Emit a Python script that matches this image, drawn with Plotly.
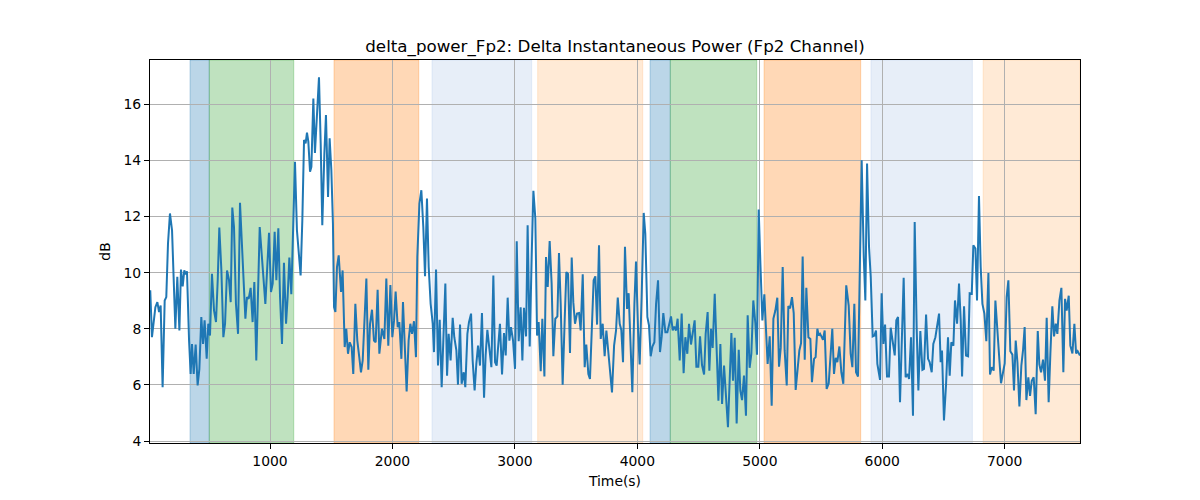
import plotly.graph_objects as go

# ---- data: time (s) and delta power (dB) ----
t_a = [22, 36, 64, 80, 94, 107, 123, 140, 153, 167, 183, 200, 227, 243, 260, 273, 287, 300, 311, 322,
       339, 352, 363, 377, 393, 409, 423, 439, 453, 466, 483, 496, 510, 526, 543, 559, 573, 586, 603, 619,
       633, 649, 665, 679, 692, 706, 722, 739, 755, 771, 785, 799, 812, 826, 842, 858, 872, 888, 916, 929,
       943, 962]
v_a = [9.37, 7.70, 8.77, 8.95, 8.60, 8.83, 5.92, 9.01, 9.13, 11.04, 12.11, 11.51, 8.00, 9.85, 7.94, 10.11, 9.51, 10.08, 9.94, 10.05,
       7.58, 6.39, 7.46, 6.39, 7.44, 5.98, 6.56, 8.42, 7.46, 8.30, 6.93, 8.18, 7.76, 9.96, 8.65, 8.24, 9.73, 11.61, 10.08, 7.70,
       8.18, 10.08, 9.75, 8.95, 12.32, 11.63, 8.89, 7.82, 12.49, 10.80, 9.49, 8.36, 9.13, 9.07, 9.46, 8.24, 9.67, 6.87, 11.63, 10.74,
       9.85, 8.89]

t_b = [992, 1008, 1022, 1038, 1052, 1068, 1082, 1098, 1114, 1131, 1144, 1158, 1174, 1191, 1204, 1220, 1237, 1250, 1264, 1278,
       1291, 1302, 1313, 1327, 1338, 1354, 1367, 1387, 1400, 1414, 1427, 1444, 1457, 1474, 1487, 1501, 1514, 1523, 1534, 1547,
       1561, 1580, 1593, 1610, 1623, 1637, 1651, 1667, 1680, 1697, 1713, 1729, 1743, 1757, 1770, 1787, 1803, 1817, 1833, 1849,
       1863, 1879, 1893]
v_b = [11.42, 9.31, 9.61, 11.46, 9.73, 11.58, 9.13, 7.46, 10.35, 8.18, 9.13, 10.54, 9.23, 12.58, 13.95, 11.51, 10.56, 9.90, 11.87, 14.73,
       14.61, 14.99, 14.67, 13.60, 13.77, 16.21, 14.27, 15.98, 16.96, 14.61, 11.69, 14.25, 15.62, 12.70, 14.79, 13.65, 11.75, 8.77, 8.60, 10.20,
       10.62, 9.31, 10.08, 7.35, 8.00, 7.11, 7.52, 7.35, 6.39, 8.89, 7.58, 6.99, 6.45, 6.87, 8.18, 9.79, 6.54, 8.18, 8.68, 7.58,
       7.52, 9.39, 7.11]

t_c = [1914, 1934, 1950, 1966, 1983, 1999, 2013, 2026, 2043, 2056, 2073, 2086, 2103, 2116, 2132, 2146, 2160, 2176, 2192, 2203,
       2220, 2236, 2252, 2266, 2282, 2296, 2312, 2329, 2339, 2356, 2372, 2386, 2402, 2416, 2432, 2446, 2459, 2475, 2492, 2505,
       2522, 2535, 2552, 2565, 2582, 2595, 2612, 2625, 2642, 2655, 2671, 2685, 2699, 2715, 2731, 2748, 2761, 2775, 2791, 2808,
       2824, 2838, 2851]
v_c = [8.00, 7.64, 9.79, 7.40, 9.56, 7.70, 8.30, 9.33, 8.06, 8.24, 6.93, 8.95, 7.11, 5.77, 7.58, 8.18, 7.82, 8.27, 6.99, 10.56,
       12.46, 12.94, 11.63, 9.87, 12.64, 10.20, 8.89, 8.18, 7.17, 10.11, 6.69, 8.32, 5.92, 7.94, 9.61, 6.33, 7.82, 6.87, 8.39, 7.70,
       7.23, 6.01, 8.15, 6.04, 6.45, 5.92, 7.82, 8.24, 8.54, 6.87, 5.80, 6.75, 7.40, 6.69, 8.56, 5.54, 7.05, 7.96, 7.23, 6.63,
       9.90, 6.81, 6.69]

t_d = [2878, 2895, 2911, 2925, 2941, 2955, 2968, 2985, 3001, 3015, 3031, 3047, 3061, 3074, 3091, 3104, 3121, 3137, 3151, 3167,
       3181, 3194, 3211, 3224, 3241, 3254, 3268, 3284, 3300, 3314, 3330, 3347, 3360, 3374, 3390, 3407, 3420, 3434, 3450, 3464,
       3477, 3491, 3507, 3524, 3537, 3554, 3570, 3583, 3600, 3613, 3630, 3643, 3657, 3671, 3687, 3701, 3717, 3733, 3747, 3763,
       3780, 3793]
v_d = [8.18, 6.37, 7.85, 7.05, 9.11, 7.58, 8.06, 7.58, 6.57, 11.12, 7.56, 8.77, 6.87, 8.75, 7.73, 11.69, 7.37, 10.56, 12.92, 11.93,
       7.76, 8.24, 6.49, 8.36, 6.30, 10.56, 9.49, 11.13, 9.61, 7.02, 8.36, 8.44, 10.70, 8.89, 6.01, 8.36, 10.02, 9.96, 7.14, 10.54,
       8.95, 8.18, 8.54, 8.56, 7.94, 9.94, 6.63, 7.44, 6.39, 6.21, 8.18, 9.73, 9.87, 8.15, 10.98, 7.64, 8.18, 7.02, 7.94, 7.11,
       6.52, 5.73]

t_e = [3810, 3826, 3840, 3856, 3869, 3883, 3899, 3916, 3929, 3946, 3959, 3976, 3989, 4006, 4019, 4035, 4052, 4065, 4082, 4095,
       4109, 4123, 4139, 4153, 4169, 4185, 4199, 4212, 4229, 4245, 4259, 4275, 4289, 4302, 4316, 4329, 4346, 4362, 4378, 4392,
       4408, 4422, 4438, 4452, 4468, 4482, 4498, 4512, 4528, 4545, 4558, 4574, 4588, 4602, 4615, 4632, 4648, 4662, 4678, 4692,
       4708, 4724, 4740]
v_e = [7.40, 7.94, 9.11, 8.18, 7.96, 6.81, 10.92, 8.71, 9.27, 7.11, 5.74, 8.89, 10.40, 7.94, 6.73, 9.13, 12.13, 11.39, 8.42, 8.12,
       7.02, 7.37, 7.52, 8.89, 9.73, 7.17, 7.73, 8.56, 7.88, 7.88, 8.12, 8.44, 7.94, 8.08, 7.94, 8.36, 6.87, 8.54, 6.42, 7.70,
       7.11, 8.18, 7.44, 7.94, 8.30, 6.65, 6.65, 7.73, 6.71, 6.37, 7.82, 8.60, 6.51, 8.00, 7.32, 9.25, 7.46, 5.44, 7.46, 5.32,
       6.69, 5.38, 4.49]

t_f = [4768, 4781, 4795, 4811, 4828, 4841, 4855, 4871, 4887, 4901, 4917, 4931, 4947, 4964, 4977, 4991, 5005, 5021, 5037, 5051,
       5064, 5081, 5097, 5111, 5127, 5143, 5157, 5171, 5187, 5203, 5220, 5233, 5247, 5263, 5277, 5293, 5307, 5323, 5337, 5350,
       5367, 5380, 5397, 5413, 5426, 5443, 5456, 5470, 5481, 5492, 5503, 5516, 5530, 5546, 5563, 5576, 5592, 5606, 5620, 5633,
       5650, 5666, 5682, 5706]
v_f = [7.85, 6.15, 7.68, 4.63, 7.25, 5.80, 5.46, 6.33, 4.90, 8.48, 6.61, 7.11, 9.01, 8.18, 7.08, 12.25, 10.32, 8.30, 9.23, 7.82,
       6.75, 7.73, 5.26, 8.36, 8.65, 9.11, 6.65, 7.32, 10.20, 7.23, 5.98, 8.81, 8.73, 9.13, 8.56, 5.82, 6.39, 7.23, 7.49, 10.58,
       6.90, 9.46, 7.70, 7.64, 6.10, 6.93, 6.99, 8.00, 7.76, 7.82, 7.73, 7.61, 7.94, 5.86, 6.06, 6.99, 8.00, 6.39, 6.96, 6.81,
       7.37, 6.45, 6.04, 9.55]

t_g = [5726, 5742, 5756, 5772, 5786, 5802, 5816, 5832, 5849, 5862, 5876, 5892, 5906, 5922, 5936, 5949, 5960, 5982, 5995, 6009,
       6023, 6039, 6055, 6069, 6085, 6102, 6115, 6129, 6145, 6162, 6175, 6191, 6208, 6219, 6235, 6251, 6265, 6281, 6295, 6311,
       6328, 6341, 6358, 6374, 6387, 6404, 6417, 6434, 6447, 6464, 6477, 6488, 6504, 6521, 6537, 6551, 6564, 6581, 6594, 6611,
       6627, 6641, 6652]
v_g = [8.83, 7.11, 6.63, 8.89, 6.45, 6.30, 9.61, 14.01, 10.56, 9.01, 13.89, 10.92, 9.85, 7.73, 7.76, 7.94, 6.75, 6.18, 9.27, 7.46,
       8.15, 6.30, 6.30, 8.04, 7.56, 7.05, 8.30, 8.42, 5.38, 8.18, 9.82, 6.27, 6.39, 6.21, 7.70, 4.90, 11.81, 8.06, 5.80, 7.92,
       6.54, 6.57, 8.51, 6.93, 6.81, 6.45, 7.46, 7.70, 8.15, 8.54, 6.81, 7.23, 4.73, 6.01, 7.70, 6.33, 7.52, 7.40, 9.01, 8.18,
       9.61, 8.30, 6.30]

t_h = [6668, 6684, 6701, 6714, 6731, 6744, 6761, 6774, 6790, 6804, 6818, 6834, 6850, 6867, 6880, 6894, 6910, 6924, 6940, 6957,
       6970, 6987, 7000, 7016, 7030, 7046, 7063, 7076, 7090, 7104, 7120, 7136, 7150, 7163, 7177, 7193, 7207, 7221, 7237, 7253,
       7270, 7283, 7297, 7313, 7329, 7343, 7359, 7373, 7389, 7403, 7417, 7430, 7447, 7463, 7479, 7493, 7506, 7523, 7536, 7553,
       7569, 7583, 7596, 7615]
v_h = [8.80, 7.05, 7.02, 9.27, 9.25, 10.98, 10.86, 9.01, 12.73, 10.20, 8.89, 8.54, 7.56, 9.99, 6.37, 6.63, 6.51, 9.01, 7.82, 6.87,
       6.06, 6.51, 6.77, 9.13, 9.73, 7.20, 7.08, 5.80, 7.58, 6.81, 5.23, 6.69, 7.25, 8.06, 5.46, 6.27, 5.61, 6.15, 6.27, 4.96,
       7.92, 6.73, 6.45, 6.90, 6.15, 8.39, 5.38, 7.11, 8.80, 7.73, 8.18, 7.82, 9.01, 9.46, 6.45, 9.07, 8.65, 9.18, 7.40, 7.12,
       8.18, 7.12, 7.20, 7.05]

time_s = t_a + t_b + t_c + t_d + t_e + t_f + t_g + t_h
power_db = v_a + v_b + v_c + v_d + v_e + v_f + v_g + v_h

# shaded stage intervals (start s, end s, colour)
span_starts = [347, 504, 1523, 2323, 3186, 4104, 4269, 5035, 5908, 6824]
span_ends = [504, 1194, 2215, 3137, 4044, 4269, 4975, 5824, 6736, 7615]
span_colors = ["rgba(31,119,180,0.3)", "rgba(44,160,44,0.3)", "rgba(255,127,14,0.3)",
               "rgba(174,199,232,0.3)", "rgba(255,187,120,0.3)", "rgba(31,119,180,0.3)",
               "rgba(44,160,44,0.3)", "rgba(255,127,14,0.3)", "rgba(174,199,232,0.3)",
               "rgba(255,187,120,0.3)"]

x_ticks = [1000, 2000, 3000, 4000, 5000, 6000, 7000]
y_ticks = [4, 6, 8, 10, 12, 14, 16]

fig = go.Figure()
fig.add_trace(go.Scatter(x=time_s, y=power_db, mode="lines",
                         line=dict(color="#1f77b4", width=2), showlegend=False))

for s, e, c in zip(span_starts, span_ends, span_colors):
    fig.add_shape(type="rect", xref="x", yref="paper", x0=s, x1=e, y0=0, y1=1,
                  fillcolor=c, line=dict(color=c, width=1), layer="below")

axis_common = dict(showgrid=True, gridcolor="#b0b0b0", gridwidth=0.8, zeroline=False,
                   showline=True, mirror=True, linecolor="black", linewidth=1,
                   ticks="outside", ticklen=5, tickcolor="black", tickwidth=1,
                   tickfont=dict(size=13.9, color="black"))

# the page body adds an 8 px offset, so margins compensate for it
fig.update_layout(
    width=1200, height=500,
    margin=dict(l=142, r=128, t=52, b=65),
    paper_bgcolor="white", plot_bgcolor="white",
    font=dict(family="DejaVu Sans", color="black"),
    title=dict(text="delta_power_Fp2: Delta Instantaneous Power (Fp2 Channel)",
               x=(615 - 8) / 1200, xref="container", xanchor="center",
               y=1 - 38 / 500, yref="container", yanchor="middle",
               font=dict(size=16.7, color="black")),
    xaxis=dict(range=[20, 7615], tickvals=x_ticks,
               title=dict(text="Time(s)", font=dict(size=13.9), standoff=8), **axis_common),
    yaxis=dict(range=[3.93, 17.58], tickvals=y_ticks,
               title=dict(text="dB", font=dict(size=13.9), standoff=9), **axis_common),
)

fig.write_html("out.html")
